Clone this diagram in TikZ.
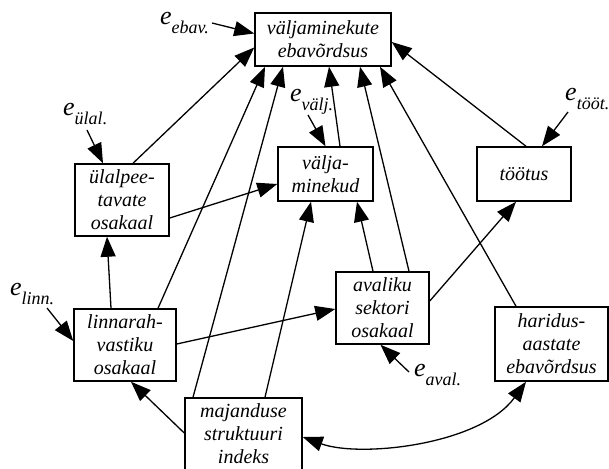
\documentclass[tikz,border=0pt]{standalone}
\usepackage{fontspec}
\setmainfont{Liberation Serif}
\usetikzlibrary{arrows.meta,calc}
\newcommand\errlab[1]{{\fontsize{26}{26}\selectfont e}\raisebox{-9pt}{\fontsize{18}{18}\selectfont #1}}
\begin{document}
\begin{tikzpicture}[x=1pt,y=-1pt,
  box/.style={draw, line width=1.5pt, inner sep=0pt, align=center, font=\fontsize{20}{23}\selectfont\itshape},
  arr/.style={line width=1.3pt, -{Triangle[length=20pt,width=15pt]}},
  dblarr/.style={line width=1.3pt, {Triangle[length=20pt,width=15pt]}-{Triangle[length=20pt,width=15pt]}},
  elab/.style={anchor=base west, inner sep=0pt, font=\itshape}]
\useasboundingbox (0,0) rectangle (609,468);
% boxes
\node[box, minimum width=136pt, minimum height=53pt] (top) at (323,39.5) {väljaminekute\\ebavõrdsus};
\node[box, minimum width=94pt, minimum height=72pt] (ulal) at (122,200) {ülalpee-\\tavate\\osakaal};
\node[box, minimum width=95pt, minimum height=54pt] (valja) at (325.5,174) {välja-\\minekud};
\node[box, minimum width=94pt, minimum height=54pt] (tootus) at (524,174) {töötus};
\node[box, minimum width=102pt, minimum height=72pt] (linn) at (125,345) {linnarah-\\vastiku\\osakaal};
\node[box, minimum width=93pt, minimum height=72pt] (aval) at (382.5,308) {avaliku\\sektori\\osakaal};
\node[box, minimum width=113pt, minimum height=74pt] (harid) at (551.5,344) {haridus-\\aastate\\ebavõrdsus};
\node[box, minimum width=117pt, minimum height=72pt] (maj) at (243.5,434) {majanduse\\struktuuri\\indeks};
% error labels
\node[elab] (eebav) at (160,25) {\errlab{ebav.}};
\node[elab] (eulal) at (63,115) {\errlab{ülal.}};
\node[elab] (evalj) at (290,102) {\errlab{välj.}};
\node[elab] (etoot) at (565,100) {\errlab{tööt.}};
\node[elab] (elinn) at (10,295) {\errlab{linn.}};
\node[elab] (eaval) at (414,376) {\errlab{aval.}};
% error arrows
\draw[arr] ($(eebav.base west)+(52,-2)$) -- ($(top.west)+(0,-6)$);
\draw[arr] ($(eulal.base west)+(24,15)$) -- ($(ulal.north)+(-19,0)$);
\draw[arr] ($(evalj.base west)+(18,13)$) -- ($(valja.north)+(0,0)$);
\draw[arr] ($(etoot.base west)+(3,12)$) -- ($(tootus.north)+(18,0)$);
\draw[arr] ($(elinn.base west)+(37,13)$) -- ($(linn.west)+(0,-4)$);
\draw[arr] ($(eaval.base west)+(-5,-4)$) -- ($(aval.south)+(-2,0)$);
% structural arrows
\draw[arr] ($(ulal.north)+(11,0)$) -- ($(top.west)+(0,8)$);
\draw[arr] ($(ulal.east)+(0,18)$) -- ($(valja.west)+(0,10)$);
\draw[arr] ($(linn.north)+(-14,0)$) -- ($(ulal.south)+(-15,0)$);
\draw[arr] ($(linn.north)+(33,0)$) -- ($(top.south)+(-58,0)$);
\draw[arr] ($(linn.east)+(0,-1)$) -- ($(aval.west)+(0,1)$);
\draw[arr] ($(maj.north)+(-50.5,0)$) -- ($(top.south)+(-40,0)$);
\draw[arr] ($(maj.west)+(0,-1)$) -- ($(linn.south)+(6,0)$);
\draw[arr] ($(maj.north)+(21.5,0)$) -- ($(valja.south)+(-14.5,0)$);
\draw[dblarr] ($(maj.east)+(0,3)$) .. controls (360,458) and (480,445) .. ($(harid.south)+(-25.5,0)$);
\draw[arr] ($(aval.north)+(-9.5,0)$) -- ($(valja.south)+(31.5,0)$);
\draw[arr] ($(aval.north)+(26.5,0)$) -- ($(top.south)+(37,0)$);
\draw[arr] ($(aval.east)+(0,-7)$) -- ($(tootus.south)+(-8,0)$);
\draw[arr] ($(harid.north)+(-35.5,0)$) -- ($(top.south)+(57,0)$);
\draw[arr] ($(tootus.north)+(2,0)$) -- ($(top.east)+(0,2.5)$);
\draw[arr] ($(valja.north)+(14.5,0)$) -- ($(top.south)+(6,0)$);
\end{tikzpicture}
\end{document}
